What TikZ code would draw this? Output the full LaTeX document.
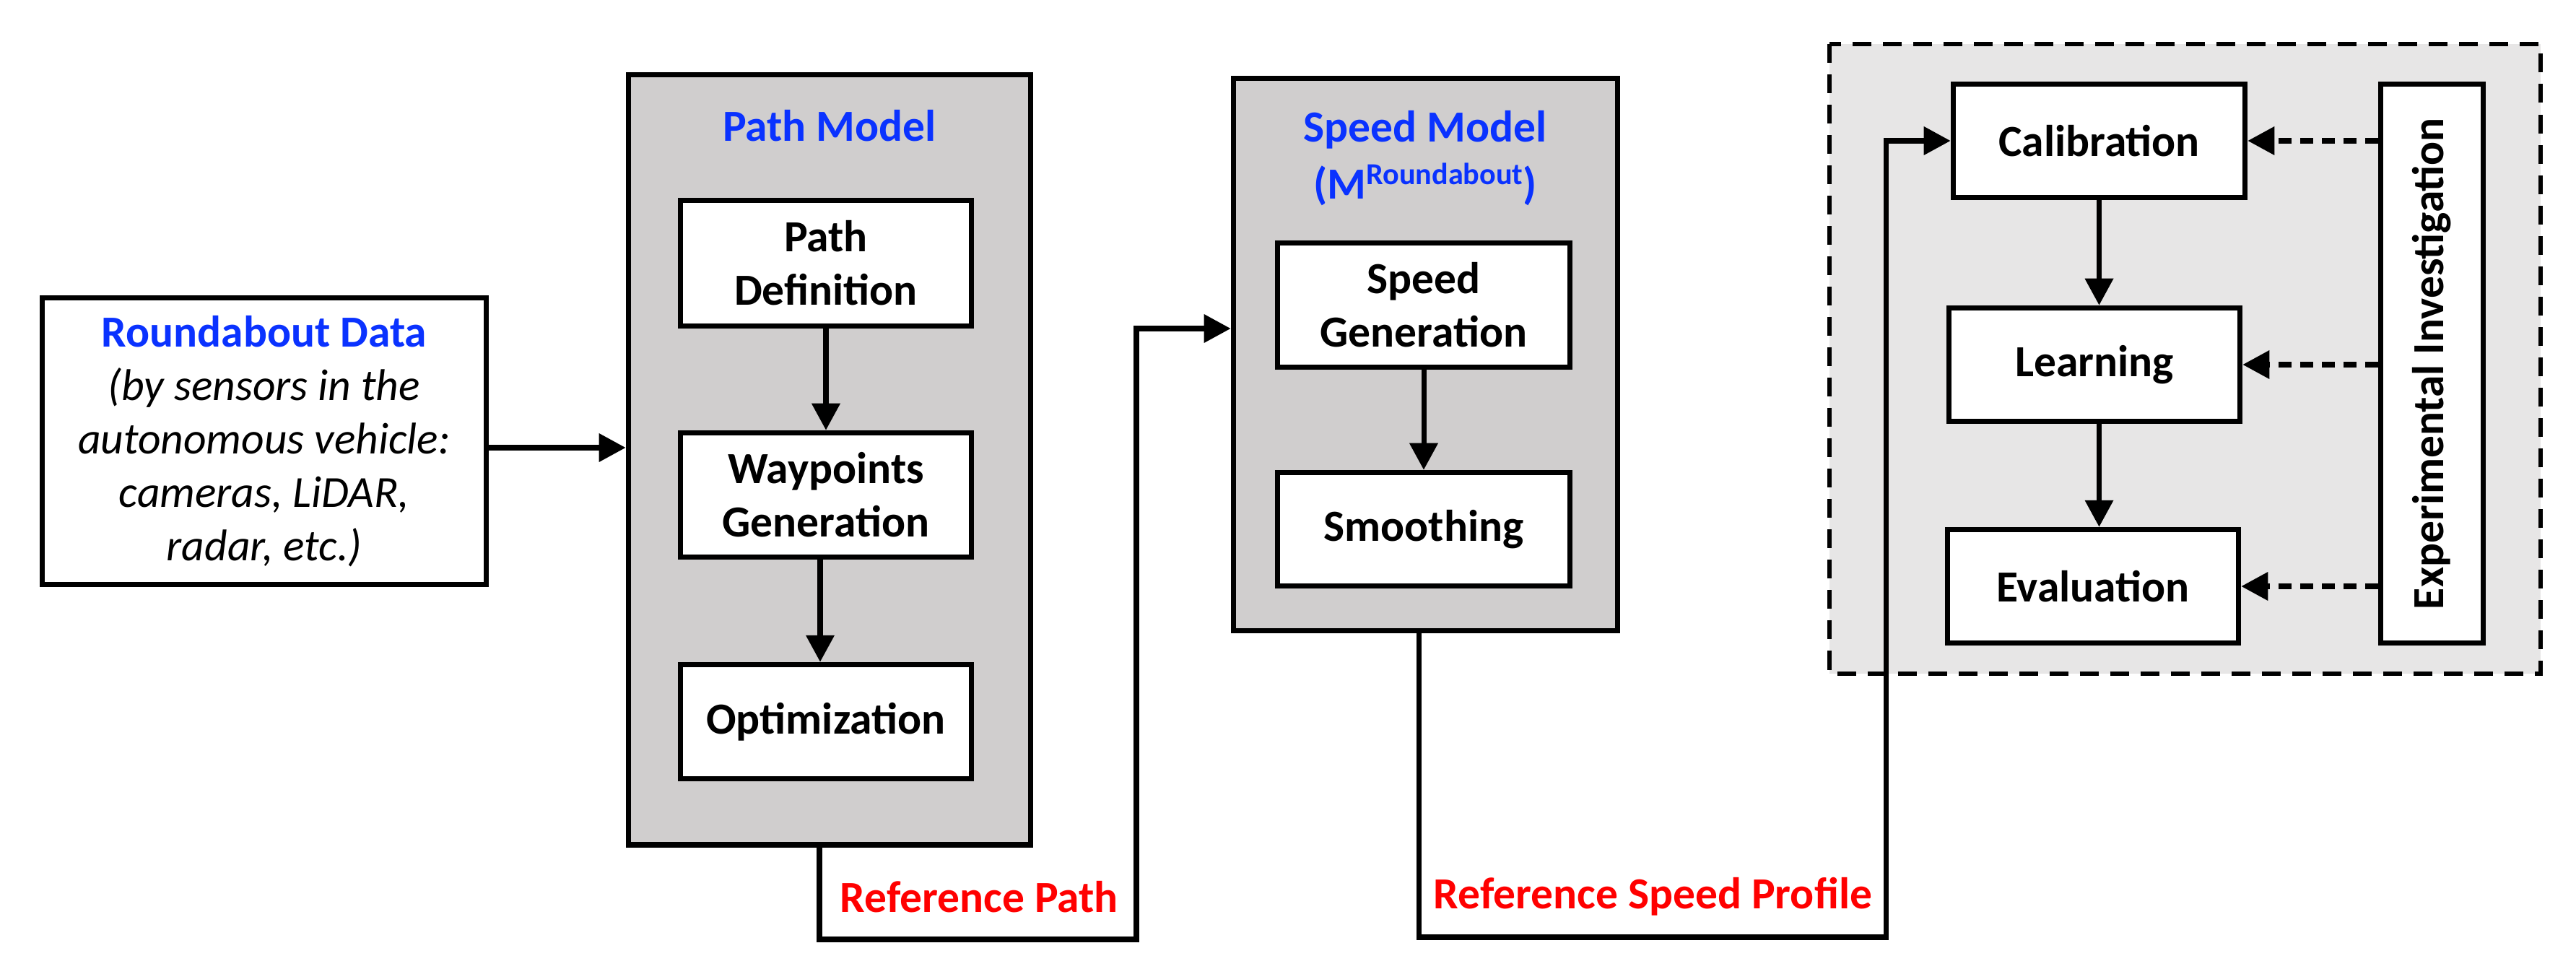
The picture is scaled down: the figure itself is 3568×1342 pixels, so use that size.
\documentclass[tikz,border=0pt]{standalone}
\usepackage{fontspec}
\usepackage{graphicx}
\setmainfont{Carlito}
\usetikzlibrary{arrows.meta,calc}
\definecolor{mblue}{RGB}{10,50,255}
\definecolor{mred}{RGB}{255,0,0}
\definecolor{modelgray}{RGB}{208,206,206}
\definecolor{regiongray}{RGB}{231,230,230}
\tikzset{
  box/.style={draw, line width=2.1pt, fill=white, align=center, inner sep=0pt,
    font=\bfseries\fontsize{17.5}{21}\selectfont},
  model/.style={draw, line width=2.1pt, fill=modelgray, inner sep=0pt},
  arr/.style={line width=2pt, -{Triangle[length=0.37cm,width=0.38cm]}},
  darr/.style={arr, dash pattern=on 0.18cm off 0.12cm},
  lbl/.style={inner sep=0pt, font=\bfseries\fontsize{17.5}{21}\selectfont},
}
\begin{document}
\begin{tikzpicture}[x=0.01cm,y=-0.01cm]
\useasboundingbox (0,0) rectangle (3568,1342);
\fill[white] (0,0) rectangle (3568,1342);

% dashed region
\draw[line width=1.9pt, fill=regiongray, dash pattern=on 0.26cm off 0.16cm] (2534,61) rectangle (3519,933);

% roundabout data
\node[box, minimum width=6.15cm, minimum height=3.97cm] (rd) at (366,611)
  {\textcolor{mblue}{Roundabout Data}\\{\mdseries\itshape (by sensors in the}\\{\mdseries\itshape autonomous vehicle:}\\{\mdseries\itshape cameras, LiDAR,}\\{\mdseries\itshape radar, etc.)}};

% path model
\node[model, minimum width=5.57cm, minimum height=10.66cm] (pm) at (1149,636.5) {};
\node[lbl, text=mblue, anchor=base] (pml) at (1149,195) {Path Model};
\node[box, minimum width=4.03cm, minimum height=1.74cm] (pd) at (1144,364.5) {Path\\Definition};
\node[box, minimum width=4.03cm, minimum height=1.72cm] (wg) at (1144,685.5) {Waypoints\\Generation};
\node[box, minimum width=4.03cm, minimum height=1.58cm] (op) at (1144,999.5) {Optimization};

% speed model
\node[model, minimum width=5.32cm, minimum height=7.65cm] (sm) at (1974.5,491) {};
\node[lbl, text=mblue, anchor=base] (sml1) at (1974,196) {Speed Model};
\node[lbl, text=mblue, anchor=base] (sml2) at (1974,275)
  {(M\raisebox{0.19cm}{\fontsize{12}{14}\selectfont Roundabout})};
\node[box, minimum width=4.05cm, minimum height=1.72cm] (sg) at (1972,422.5) {Speed\\Generation};
\node[box, minimum width=4.05cm, minimum height=1.57cm] (sth) at (1972,733) {Smoothing};

% right region
\node[box, minimum width=4.04cm, minimum height=1.57cm] (cal) at (2907.5,195) {Calibration};
\node[box, minimum width=4.03cm, minimum height=1.57cm] (lrn) at (2901,505) {Learning};
\node[box, minimum width=4.03cm, minimum height=1.57cm] (ev) at (2899,812) {Evaluation};
\node[box, minimum width=1.42cm, minimum height=7.74cm] (ex) at (3368.5,503.5)
  {\rotatebox{90}{Experimental Investigation}};

% arrows
\draw[arr] ($(rd.east)+(0,9)$) -- ($(rd.east -| pm.west)+(0,9)$);
\draw[arr] (pd.south) -- (wg.north);
\draw[arr] ($(wg.south)+(-8,0)$) -- ($(op.north)+(-8,0)$);
\draw[arr] (sg.south) -- (sth.north);
\draw[arr] (cal.south) -- (cal.south |- lrn.north);
\draw[arr] (lrn.south -| cal.south) -- (ev.north -| cal.south);
\draw[darr] (ex.west |- cal.east) -- (cal.east);
\draw[darr] (ex.west |- lrn.east) -- (lrn.east);
\draw[darr] (ex.west |- ev.east) -- (ev.east);

% feedback connectors
\coordinate (rp1) at (1135,1301);
\coordinate (rp2) at (1574,1301);
\coordinate (rp3) at (1574,455);
\draw[arr] (pm.south -| rp1) -- (rp1) -- (rp2) -- (rp3) -- (rp3 -| sm.west);
\coordinate (sp1) at (1965,1298);
\coordinate (sp2) at (2612,1298);
\draw[arr] (sm.south -| sp1) -- (sp1) -- (sp2) -- (sp2 |- cal.west) -- (cal.west);

\node[lbl, text=mred, anchor=base west] (rpl) at (1163,1263) {Reference Path};
\node[lbl, text=mred, anchor=base west] (rspl) at (1985,1258) {Reference Speed Profile};
\end{tikzpicture}
\end{document}
